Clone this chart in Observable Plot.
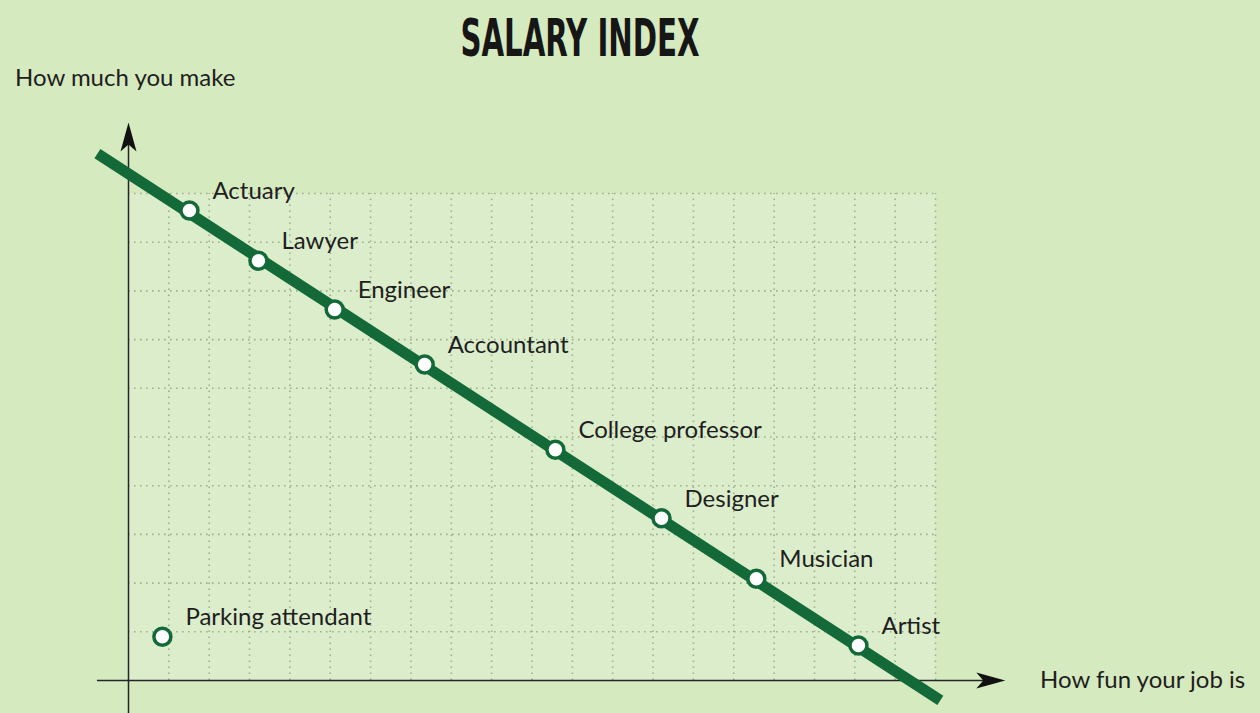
<!DOCTYPE html>
<html>
<head>
<meta charset="utf-8">
<script src="https://cdn.jsdelivr.net/npm/d3@7"></script>
<script src="https://cdn.jsdelivr.net/npm/@observablehq/plot@0.6"></script>
<style>
  html, body { margin: 0; padding: 0; background: #d6eac0; }
  #wrap { position: relative; width: 1260px; height: 713px; overflow: hidden; }
  #chart { position: absolute; left: 0; top: 0; }
  .title { position: absolute; left: 580px; top: 12px; transform: translateX(-50%) scaleX(0.625);
    font-family: "DejaVu Sans Condensed", "Liberation Sans Narrow", sans-serif; font-weight: bold;
    font-size: 52px; color: #161616; white-space: nowrap; line-height: 1; }
  .axlab { position: absolute; font-family: Lato, "Open Sans", sans-serif; font-size: 24px; color: #1e1e1e; white-space: nowrap; line-height: 1; }
</style>
</head>
<body>
<div id="wrap">
  <div id="chart"></div>
  <div class="title">SALARY INDEX</div>
  <div class="axlab" id="ylab" style="left:15px; top:65px;">How much you make</div>
  <div class="axlab" id="xlab" style="left:1040px; top:667px;">How fun your job is</div>
</div>
<script>
// ---- data ----
const jobs = ["Actuary", "Lawyer", "Engineer", "Accountant", "College professor", "Designer", "Musician", "Artist", "Parking attendant"];
const fun  = [1.51, 3.22, 5.11, 7.34, 10.58, 13.21, 15.56, 18.09, 0.84];
const pay  = [9.65, 8.62, 7.62, 6.49, 4.74, 3.33, 2.09, 0.72, 0.90];
const trendFun = [-0.77, 20.12];
const trendPay = [10.82, -0.41];
const xDomain = [0, 20];
const yDomain = [0, 10];
const gridFun = [1, 2, 3, 4, 5, 6, 7, 8, 9, 10, 11, 12, 13, 14, 15, 16, 17, 18, 19, 20];
const gridPay = [1, 2, 3, 4, 5, 6, 7, 8, 9, 10];
const yAxisExtent = [-1, 11.2];   // value range of the vertical axis line
const xAxisExtent = [-0.77, 21.3]; // value range of the horizontal axis line
const yArrowTip = 11.46;
const xArrowTip = 21.73;

const points = jobs.map((j, i) => ({job: j, fun: fun[i], pay: pay[i]}));
const trend = trendFun.map((f, i) => ({fun: f, pay: trendPay[i]}));

const green = "#136a38";
const ink = "#262626";

// dart-shaped arrowhead, tip at origin pointing up
const dart = {
  draw(ctx) {
    ctx.moveTo(0, 0);
    ctx.lineTo(8, 29);
    ctx.lineTo(0, 22);
    ctx.lineTo(-8, 29);
    ctx.closePath();
  }
};

const chart = Plot.plot({
  width: 1260,
  height: 713,
  marginLeft: 128,
  marginRight: 325,
  marginTop: 193,
  marginBottom: 33,
  x: {domain: xDomain, axis: null},
  y: {domain: yDomain, axis: null},
  style: {background: "transparent", fontFamily: "Lato, sans-serif"},
  marks: [
    Plot.rect([0], {x1: xDomain[0], x2: xDomain[1], y1: yDomain[0], y2: yDomain[1], fill: "#dcedcc"}),
    Plot.ruleX(gridFun, {y1: yDomain[0], y2: yDomain[1], stroke: "#8fa37f", strokeWidth: 1.6, strokeDasharray: "1.6,4.4", strokeOpacity: 0.8}),
    Plot.ruleY(gridPay, {x1: xDomain[0], x2: xDomain[1], stroke: "#8fa37f", strokeWidth: 1.6, strokeDasharray: "1.6,4.4", strokeOpacity: 0.8}),
    // axes
    Plot.ruleX([0], {y1: yAxisExtent[0], y2: yAxisExtent[1], stroke: ink, strokeWidth: 1.5}),
    Plot.ruleY([0], {x1: xAxisExtent[0], x2: xAxisExtent[1], stroke: ink, strokeWidth: 1.5}),
    Plot.dot([0], {x: 0, y: yArrowTip, symbol: dart, r: 5, fill: "#111", stroke: "none"}),
    Plot.dot([0], {x: xArrowTip, y: 0, symbol: dart, r: 5, fill: "#111", stroke: "none", rotate: 90}),
    // trend line
    Plot.line(trend, {x: "fun", y: "pay", stroke: green, strokeWidth: 11, strokeLinecap: "butt"}),
    // job points
    Plot.dot(points, {x: "fun", y: "pay", r: 8.5, fill: "white", stroke: green, strokeWidth: 3.5}),
    Plot.text(points, {x: "fun", y: "pay", text: "job", textAnchor: "start", dx: 23, dy: -19,
      fontSize: 24, fill: "#1e1e1e", fontFamily: "Lato, sans-serif"})
  ]
});
document.getElementById("chart").appendChild(chart);
</script>
</body>
</html>
